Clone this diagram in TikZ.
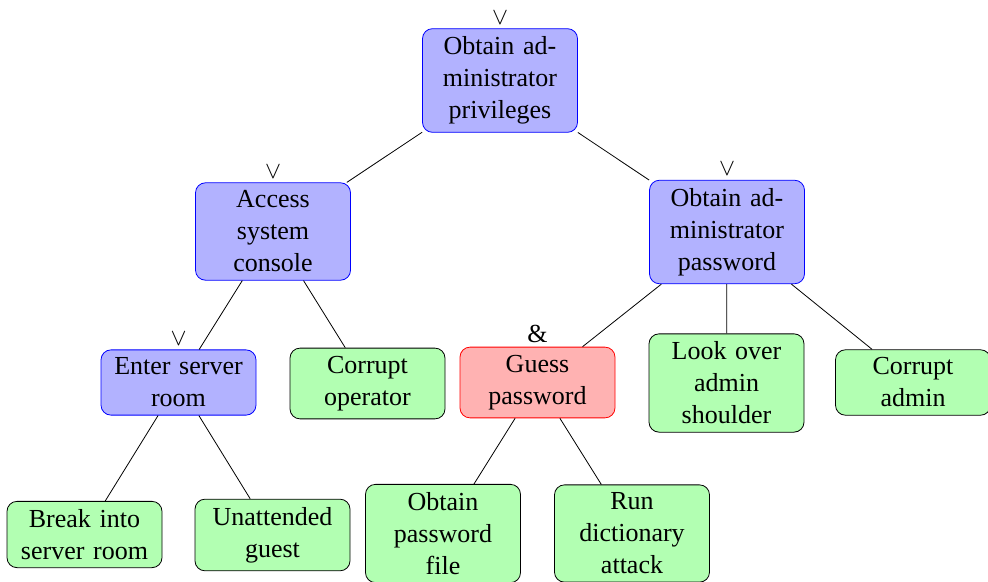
\documentclass[tikz,border=0pt]{standalone}
\usepackage{fontspec}
\setmainfont{Liberation Serif}
\begin{document}
\begin{tikzpicture}[x=0.5pt,y=-0.5pt,
  base/.style={rounded corners=5pt, align=center, text width=72pt, inner xsep=2.75pt, inner ysep=4pt, font=\fontsize{13}{16}\selectfont},
  ornode/.style={base, draw=blue, fill=blue!30},
  leafnode/.style={base, draw=black, fill=green!30},
  andnode/.style={base, draw=red, fill=red!30},
  gate/.style={label={[font=\fontsize{13}{16}\selectfont, label distance=-1.5pt]above:#1}}]
\useasboundingbox (0,0) rectangle (988,582);
\node[ornode, gate=$\vee$] (root) at (500,80.5) {Obtain ad-\\ministrator\\privileges};
\node[ornode, gate=$\vee$] (access) at (273,231.5) {Access\\system\\console};
\node[ornode, gate=$\vee$] (pass) at (727,232) {Obtain ad-\\ministrator\\password};
\node[ornode, gate=$\vee$] (enter) at (178.5,382.5) {Enter server\\room};
\node[leafnode] (corop) at (367.5,383.5) {Corrupt\\operator};
\node[andnode, gate=\&] (guess) at (537.5,382.5) {Guess\\password};
\node[leafnode] (look) at (726.5,383) {Look over\\admin\\shoulder};
\node[leafnode] (corad) at (913,382.5) {Corrupt\\admin};
\node[leafnode] (break) at (84.5,534.5) {Break into\\server room};
\node[leafnode] (guest) at (272.5,535) {Unattended\\guest};
\node[leafnode] (file) at (443,533.5) {Obtain\\password\\file};
\node[leafnode] (dict) at (632,533.5) {Run\\dictionary\\attack};
\draw (root) -- (access);
\draw (root) -- (pass);
\draw (access) -- (enter);
\draw (access) -- (corop);
\draw (enter) -- (break);
\draw (enter) -- (guest);
\draw (pass) -- (guess);
\draw (pass) -- (look);
\draw (pass) -- (corad);
\draw (guess) -- (file);
\draw (guess) -- (dict);
\end{tikzpicture}
\end{document}
